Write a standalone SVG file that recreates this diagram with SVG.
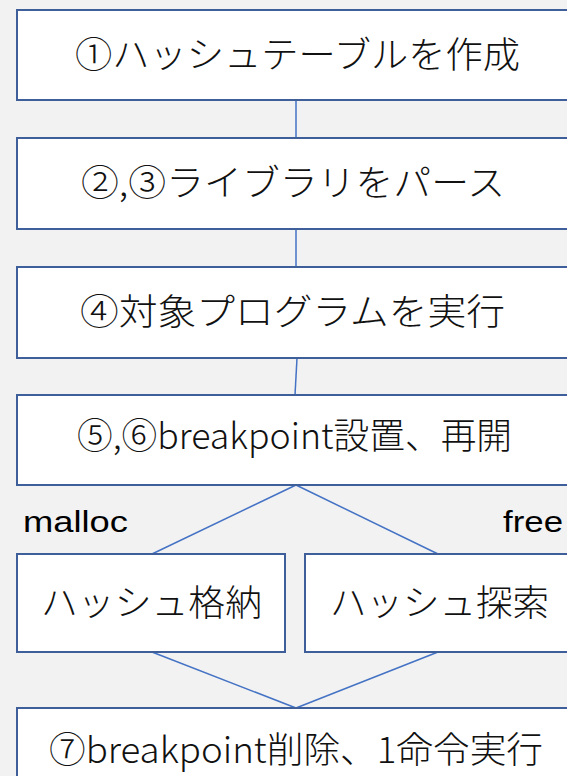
<svg xmlns="http://www.w3.org/2000/svg" width="567" height="776" viewBox="0 0 567 776">
<style>
.box{fill:#ffffff;stroke:#3f5f9b;stroke-width:2}
.lbl{font-family:"Noto Sans CJK JP","Noto Sans",sans-serif;font-size:36px;font-weight:300;fill:#111}
.lat{font-family:"Liberation Sans",Arial,sans-serif;font-size:30px;fill:#000}
.con line{stroke:#4472c4;stroke-width:1.5}
</style>
<rect x="0" y="0" width="567" height="776" fill="#f2f2f2"/>
<g id="connectors" class="con">
<line x1="296" y1="100" x2="296" y2="138"/>
<line x1="296" y1="229" x2="296" y2="267"/>
<line x1="297" y1="358" x2="295" y2="395"/>
<line x1="296" y1="485" x2="152" y2="554"/>
<line x1="296" y1="485" x2="438" y2="554"/>
<line x1="152" y1="652" x2="296" y2="708"/>
<line x1="438" y1="652" x2="296" y2="708"/>
</g>
<g id="n1"><rect class="box" x="17" y="10" width="559" height="90"/><text class="lbl" x="75" y="68" textLength="445" lengthAdjust="spacingAndGlyphs">①ハッシュテーブルを作成</text></g>
<g id="n2"><rect class="box" x="17" y="138" width="559" height="91"/><text class="lbl" x="81" y="196" textLength="424" lengthAdjust="spacingAndGlyphs">②,③ライブラリをパース</text></g>
<g id="n3"><rect class="box" x="17" y="267" width="559" height="91"/><text class="lbl" x="80" y="325" textLength="425" lengthAdjust="spacingAndGlyphs">④対象プログラムを実行</text></g>
<g id="n4"><rect class="box" x="17" y="395" width="559" height="90"/><text class="lbl" x="77" y="449" textLength="435" lengthAdjust="spacingAndGlyphs">⑤,⑥breakpoint設置、再開</text></g>
<g id="label-malloc"><text class="lat" x="23" y="532" textLength="105" lengthAdjust="spacingAndGlyphs">malloc</text></g>
<g id="label-free"><text class="lat" x="503" y="532" textLength="60" lengthAdjust="spacingAndGlyphs">free</text></g>
<g id="n5"><rect class="box" x="17" y="554" width="268" height="98"/><text class="lbl" x="41" y="616" textLength="221" lengthAdjust="spacingAndGlyphs">ハッシュ格納</text></g>
<g id="n6"><rect class="box" x="305" y="554" width="271" height="98"/><text class="lbl" x="330" y="616" textLength="219" lengthAdjust="spacingAndGlyphs">ハッシュ探索</text></g>
<g id="n7"><rect class="box" x="17" y="708" width="559" height="80"/><text class="lbl" x="49" y="763" textLength="494" lengthAdjust="spacingAndGlyphs">⑦breakpoint削除、1命令実行</text></g>
</svg>
